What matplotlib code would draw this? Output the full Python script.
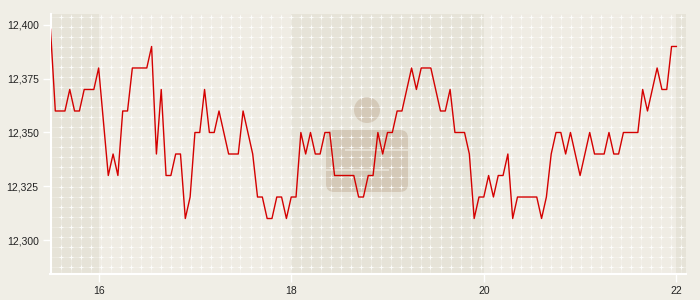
import numpy as np
import matplotlib
matplotlib.use("Agg")
import matplotlib.pyplot as plt
from matplotlib.patches import Circle, FancyBboxPatch, Rectangle
from matplotlib.ticker import FuncFormatter

# price samples, one every 0.05 h starting at 15.5
start_hour = 15.5
step_hour = 0.05
prices = [
    12398, 12360, 12360, 12360, 12370, 12360, 12360, 12370, 12370, 12370,
    12380, 12355, 12330, 12340, 12330, 12360, 12360, 12380, 12380, 12380,
    12380, 12390, 12340, 12370, 12330, 12330, 12340, 12340, 12310, 12320,
    12350, 12350, 12370, 12350, 12350, 12360, 12350, 12340, 12340, 12340,
    12360, 12350, 12340, 12320, 12320, 12310, 12310, 12320, 12320, 12310,
    12320, 12320, 12350, 12340, 12350, 12340, 12340, 12350, 12350, 12330,
    12330, 12330, 12330, 12330, 12320, 12320, 12330, 12330, 12350, 12340,
    12350, 12350, 12360, 12360, 12370, 12380, 12370, 12380, 12380, 12380,
    12370, 12360, 12360, 12370, 12350, 12350, 12350, 12340, 12310, 12320,
    12320, 12330, 12320, 12330, 12330, 12340, 12310, 12320, 12320, 12320,
    12320, 12320, 12310, 12320, 12340, 12350, 12350, 12340, 12350, 12340,
    12330, 12340, 12350, 12340, 12340, 12340, 12350, 12340, 12340, 12350,
    12350, 12350, 12350, 12370, 12360, 12370, 12380, 12370, 12370, 12390,
    12390,
]
x_ticks = [16, 18, 20, 22]
y_ticks = [12300, 12325, 12350, 12375, 12400]
bands = [(15.5, 16), (18, 20), (22, 22.1)]

hours = start_hour + step_hour * np.arange(len(prices))

plt.rcParams["font.family"] = ["Liberation Sans", "DejaVu Sans"]

fig_bg = "#f0eee6"
ax_bg = "#efece4"
band_bg = "#e6e3d8"
logo_c = "#d4c9b8"

fig = plt.figure(figsize=(7, 3), dpi=100, facecolor=fig_bg)
ax = fig.add_axes([50.5 / 700, 26 / 300, 635.5 / 700, 260 / 300])
ax.set_facecolor(ax_bg)
ax.set_xlim(15.5, 22.1)
ax.set_ylim(12284.2, 12405.1)

for a, b in bands:
    ax.axvspan(a, b, color=band_bg, lw=0, zorder=0)

# watermark logo, drawn in figure inches
tr = fig.dpi_scale_trans
ax.add_patch(Circle((3.67, 1.90), 0.13, color=logo_c, lw=0, transform=tr, zorder=0.5))
ax.add_patch(FancyBboxPatch((3.26, 1.08), 0.82, 0.62,
                            boxstyle="round,pad=0,rounding_size=0.08",
                            color=logo_c, lw=0, transform=tr, zorder=0.5))
ax.add_patch(Rectangle((3.45, 1.49), 0.63, 0.025, color="#e4ded2", lw=0, transform=tr, zorder=0.6))
ax.add_patch(Rectangle((3.26, 1.29), 0.63, 0.025, color="#e4ded2", lw=0, transform=tr, zorder=0.6))

# 10 px texture grid with small crosses
w_px, h_px = 635.5, 260.0
gx = np.arange(10, 635, 10) / w_px
gy = np.arange(7, 260, 10) / h_px
ax.vlines(gx, 0, 1, transform=ax.transAxes, color="white", alpha=0.3, lw=0.6, zorder=1)
ax.hlines(gy, 0, 1, transform=ax.transAxes, color="white", alpha=0.3, lw=0.6, zorder=1)
mx, my = np.meshgrid(gx, gy)
ax.scatter(mx.ravel(), my.ravel(), marker="+", s=8, lw=0.7, color="white", alpha=0.85,
           transform=ax.transAxes, zorder=1.5)

ax.plot(hours, prices, color="#d40000", lw=1.0, zorder=3)

for s in ["top", "right"]:
    ax.spines[s].set_visible(False)
for s in ["left", "bottom"]:
    ax.spines[s].set_color("white")
    ax.spines[s].set_linewidth(1.5)

ax.set_xticks(x_ticks)
ax.set_yticks(y_ticks)
ax.yaxis.set_major_formatter(FuncFormatter(lambda v, p: f"{v:,.0f}"))
ax.tick_params(axis="both", colors="white", length=6, width=1, labelcolor="#222222",
               labelsize=7.5, pad=2.5)

fig.savefig("out.png", dpi=100, facecolor=fig_bg)
